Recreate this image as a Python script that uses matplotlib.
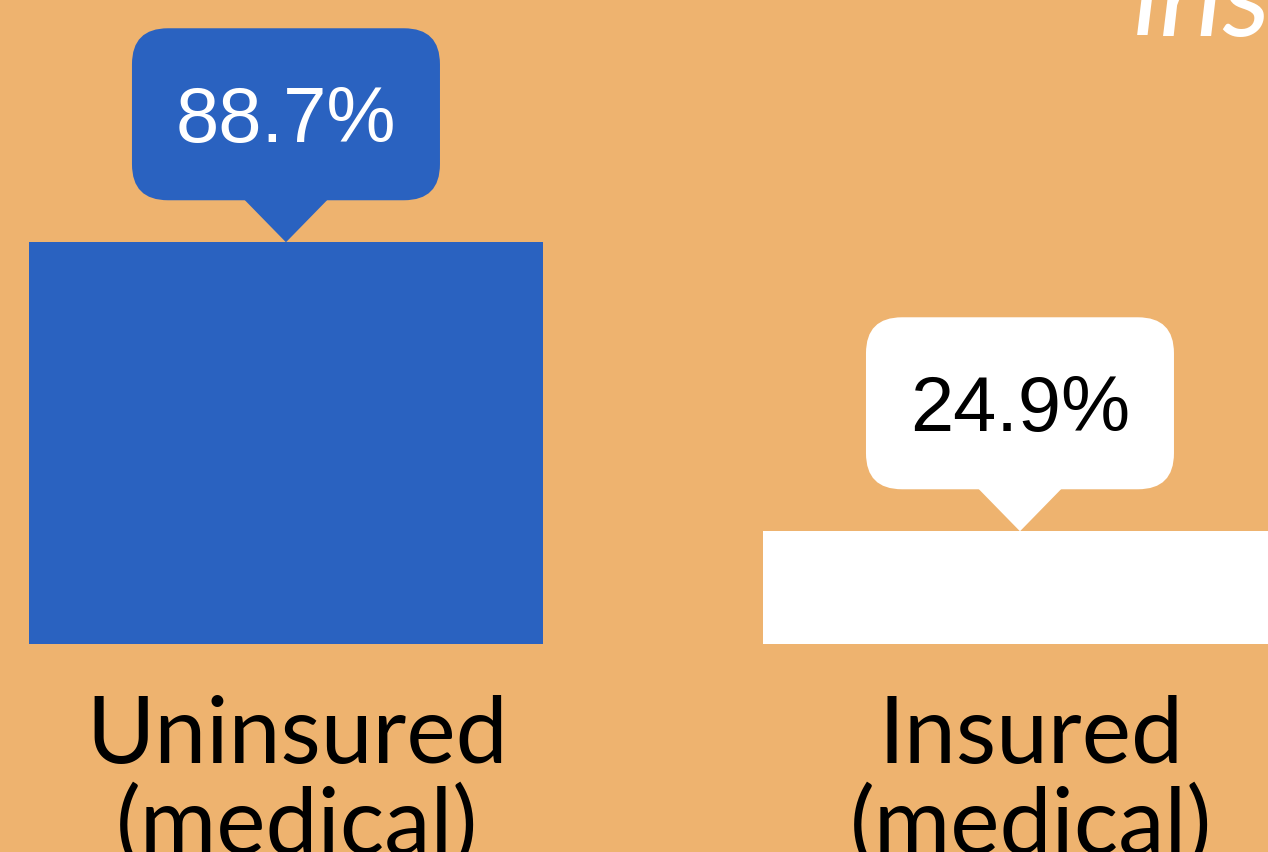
"""Uninsured vs insured (medical) bar chart with callout labels."""
import matplotlib
matplotlib.use("Agg")
import matplotlib.pyplot as plt
import matplotlib.patches as mpatches
import matplotlib.transforms as mtransforms

categories = ["Uninsured\n(medical)", "Insured\n(medical)"]
values = [88.7, 24.9]
labels = ["88.7%", "24.9%"]

BG = "#EEB36F"
BLUE = "#2A62C0"
bar_colors = [BLUE, "#FFFFFF"]
box_colors = [BLUE, "#FFFFFF"]
text_colors = ["#FFFFFF", "#000000"]

DPI = 100
fig = plt.figure(figsize=(12.68, 8.53), dpi=DPI, facecolor=BG)
ax = fig.add_axes([0, 0, 1, 1])
ax.set_facecolor(BG)

x = list(range(len(values)))
ax.bar(x, values, width=0.7, color=bar_colors, zorder=2)

ax.set_xlim(-0.3896, 1.3379)
ax.set_ylim(-45.9, 142.4)
ax.axis("off")

# callouts: sizes in inches (pixels / 100) relative to bar top
w, h, r, tip = 3.08, 1.72, 0.36, 0.42
for xi, v, lab, bc, tc in zip(x, values, labels, box_colors, text_colors):
    tr = fig.dpi_scale_trans + mtransforms.ScaledTranslation(xi, v, ax.transData)
    box = mpatches.FancyBboxPatch((-w / 2 + r, tip + r), w - 2 * r, h - 2 * r,
                                  boxstyle=f"round,pad={r}", transform=tr,
                                  facecolor=bc, edgecolor="none", zorder=3)
    ax.add_patch(box)
    pointer = mpatches.Polygon([(-tip, tip + 0.01), (tip, tip + 0.01), (0, 0)],
                               closed=True, transform=tr, facecolor=bc,
                               edgecolor="none", zorder=3)
    ax.add_patch(pointer)
    ax.text(0, tip + 0.59, lab, transform=tr, ha="center", va="baseline",
            color=tc, fontsize=56, family="Liberation Sans", zorder=4)

# category labels under the bars
for xi, cat in zip(x, categories):
    tr = fig.dpi_scale_trans + mtransforms.ScaledTranslation(xi, 0, ax.transData)
    ax.text(0.11, -0.50, cat, transform=tr, ha="center", va="top",
            fontsize=67, family="Lato", linespacing=1.08, color="black")

# partial title in the top right corner
ax.text(1133 / 1268, 1 - 36 / 853, "ins", transform=fig.transFigure,
        ha="left", va="baseline", fontsize=86, family="Lato",
        style="italic", color="white")

plt.savefig("out.png", dpi=DPI, facecolor=BG)
